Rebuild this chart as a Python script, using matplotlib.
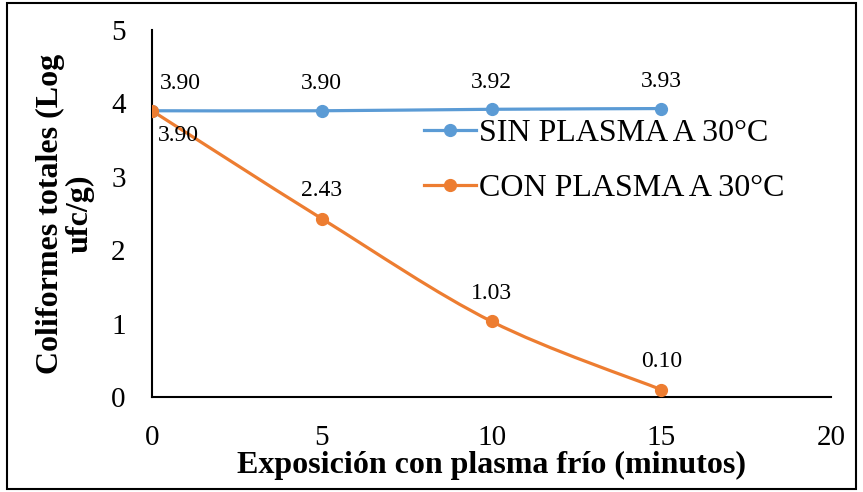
import matplotlib
matplotlib.use("Agg")
import matplotlib.pyplot as plt
from matplotlib.path import Path
from matplotlib.patches import PathPatch, Rectangle

# data
minutos = [0, 5, 10, 15]
sin_plasma = [3.90, 3.90, 3.92, 3.93]
con_plasma = [3.90, 2.43, 1.03, 0.10]
sin_label = "SIN PLASMA A 30°C"
con_label = "CON PLASMA A 30°C"

BLUE = "#5B9BD5"
ORANGE = "#ED7D31"

plt.rcParams["font.family"] = ["Liberation Serif", "DejaVu Serif"]


def smooth_path(xs, ys):
    # Excel-style smoothed line: cubic bezier through each point
    pts = list(zip(xs, ys))
    n = len(pts)
    verts = [pts[0]]
    codes = [Path.MOVETO]
    for i in range(n - 1):
        p0 = pts[i - 1] if i > 0 else pts[i]
        p1 = pts[i]
        p2 = pts[i + 1]
        p3 = pts[i + 2] if i + 2 < n else pts[i + 1]
        c1 = (p1[0] + (p2[0] - p0[0]) / 6, p1[1] + (p2[1] - p0[1]) / 6)
        c2 = (p2[0] - (p3[0] - p1[0]) / 6, p2[1] - (p3[1] - p1[1]) / 6)
        verts += [c1, c2, p2]
        codes += [Path.CURVE4] * 3
    return Path(verts, codes)


fig = plt.figure(figsize=(8.63, 4.92), dpi=100)
ax = fig.add_axes([0.1761, 0.193, 0.787, 0.746])

for ys, color, label in [(sin_plasma, BLUE, sin_label), (con_plasma, ORANGE, con_label)]:
    ax.add_patch(PathPatch(smooth_path(minutos, ys), facecolor="none",
                           edgecolor=color, lw=2.3, capstyle="round", zorder=2))
    ax.plot(minutos, ys, color=color, lw=2.3, marker="o", markersize=8.5,
            linestyle="none", zorder=3)
    # legend handle
    ax.plot([], [], color=color, lw=2.3, marker="o", markersize=8.5, label=label)

for i, (x, y) in enumerate(zip(minutos, sin_plasma)):
    dx = 28 if i == 0 else 0
    ax.annotate(f"{y:.2f}", (x, y), xytext=(dx, 27), textcoords="offset pixels",
                ha="center", va="center", fontsize=17)

for i, (x, y) in enumerate(zip(minutos, con_plasma)):
    if i == 0:
        off = (26, -25)
    else:
        off = (0, 28)
    ax.annotate(f"{y:.2f}", (x, y), xytext=off, textcoords="offset pixels",
                ha="center", va="center", fontsize=17)

ax.set_xlim(0, 20)
ax.set_ylim(0, 5)
ax.set_xticks([0, 5, 10, 15, 20])
ax.set_yticks([0, 1, 2, 3, 4, 5])
ax.tick_params(length=0, labelsize=21)
ax.tick_params(axis="x", pad=20)
ax.tick_params(axis="y", pad=19)
for s in ["top", "right"]:
    ax.spines[s].set_visible(False)
for s in ["left", "bottom"]:
    ax.spines[s].set_linewidth(1.5)

ax.set_xlabel("Exposición con plasma frío (minutos)", fontsize=23, fontweight="bold", labelpad=0)
ax.set_ylabel("Coliformes totales (Log\nufc/g)", fontsize=23, fontweight="bold",
              labelpad=12, linespacing=1.0)

leg = ax.legend(loc="center left", bbox_to_anchor=(0.381, 0.643), frameon=False,
                fontsize=23, handlelength=1.65, handletextpad=0.08, labelspacing=0.8,
                borderaxespad=0)

fig.patches.append(Rectangle((0.008, 0.006), 0.984, 0.988, transform=fig.transFigure,
                             fill=False, edgecolor="black", lw=1.5))

fig.savefig("out.png", dpi=100)
